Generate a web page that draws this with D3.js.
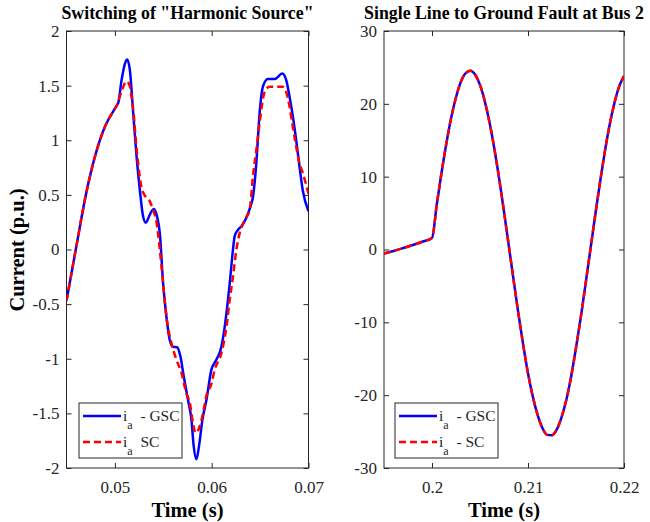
<!DOCTYPE html>
<html>
<head>
<meta charset="utf-8">
<script src="https://cdn.jsdelivr.net/npm/d3@7"></script>
<style>
  body { margin: 0; background: #fff; }
  svg text { font-family: "Liberation Serif", "DejaVu Serif", serif; }
</style>
</head>
<body>
<svg id="chart" width="650" height="522"></svg>
<script>
// left panel: switching of harmonic source
const harmTime = [0.045, 0.046, 0.047, 0.048, 0.049, 0.050, 0.0502, 0.05034, 0.05069, 0.05103, 0.05127,
  0.05155, 0.05189, 0.05224, 0.05258, 0.05292, 0.0532, 0.05361, 0.05402, 0.05436, 0.05464, 0.05498,
  0.05533, 0.05567, 0.05601, 0.05642, 0.05677, 0.05711, 0.05756, 0.05791, 0.05814, 0.05842, 0.05869,
  0.05904, 0.05945, 0.05997, 0.06048, 0.061, 0.06134, 0.06186, 0.0622, 0.06237, 0.06271, 0.06306,
  0.06358, 0.06399, 0.06426, 0.06461, 0.06495, 0.06529, 0.0658, 0.0665, 0.06729, 0.0677, 0.06804,
  0.06838, 0.06873, 0.06907, 0.06941, 0.07]
const harmGSC = [-0.47, 0.02, 0.50, 0.87, 1.13, 1.29, 1.32, 1.34, 1.55, 1.70, 1.74,
  1.64, 1.25, 0.85, 0.54, 0.30, 0.245, 0.32, 0.37, 0.30, 0.15, -0.31,
  -0.62, -0.83, -0.89, -0.895, -0.98, -1.16, -1.38, -1.56, -1.80, -1.92, -1.80,
  -1.56, -1.38, -1.10, -1.01, -0.89, -0.71, -0.31, 0.0, 0.12, 0.18, 0.21,
  0.29, 0.39, 0.48, 0.79, 1.25, 1.49, 1.56, 1.56, 1.61, 1.55, 1.40,
  1.22, 1.0, 0.76, 0.54, 0.35]

const harmTimeSC = [0.045, 0.046, 0.047, 0.048, 0.049, 0.050, 0.0502, 0.05069, 0.05121, 0.05155, 0.05172,
  0.05196, 0.05216, 0.0524, 0.05275, 0.0532, 0.05361, 0.05395, 0.0543, 0.05464, 0.05498, 0.05533,
  0.05585, 0.05636, 0.05688, 0.05739, 0.05773, 0.05807, 0.05835, 0.05876, 0.0591, 0.05945, 0.05997,
  0.06031, 0.061, 0.06152, 0.06186, 0.0622, 0.06255, 0.06289, 0.0634, 0.06392, 0.06426, 0.06461,
  0.06495, 0.06546, 0.06598, 0.06735, 0.0677, 0.06804, 0.06838, 0.06873, 0.06907, 0.06941, 0.07]
const harmSC = [-0.47, 0.02, 0.50, 0.87, 1.13, 1.29, 1.32, 1.45, 1.54, 1.49, 1.40,
  1.22, 1.0, 0.79, 0.57, 0.48, 0.44, 0.36, 0.25, 0.0, -0.31, -0.62,
  -0.86, -1.01, -1.13, -1.32, -1.40, -1.59, -1.68, -1.62, -1.50, -1.34, -1.23,
  -1.10, -0.95, -0.71, -0.46, -0.25, 0.0, 0.15, 0.27, 0.36, 0.67, 0.91,
  1.16, 1.44, 1.49, 1.49, 1.44, 1.31, 1.12, 0.94, 0.79, 0.70, 0.51]

// right panel: single line to ground fault
const faultTime = [0.195, 0.196, 0.197, 0.198, 0.199, 0.2, 0.2005, 0.201, 0.2015, 0.202, 0.2025, 0.203,
  0.2035, 0.204, 0.2045, 0.205, 0.2055, 0.206, 0.2065, 0.207, 0.2075, 0.208, 0.2085, 0.209, 0.2095,
  0.21, 0.2105, 0.211, 0.2115, 0.212, 0.2125, 0.213, 0.2135, 0.214, 0.2145, 0.215, 0.2155, 0.216,
  0.2165, 0.217, 0.2175, 0.218, 0.2185, 0.219, 0.2195, 0.22]
const faultGSC = [-0.55, -0.2, 0.2, 0.62, 1.07, 1.58, 6.2, 10.6, 14.6, 18.1, 20.9, 23.0,
  24.2, 24.55, 24.0, 22.6, 20.35, 17.4, 13.8, 9.7, 5.2, 0.5, -4.2, -8.8, -13.1,
  -17.0, -20.2, -22.7, -24.5, -25.45, -25.5, -24.7, -23.0, -20.6, -17.4, -13.5, -9.3, -4.7,
  0.0, 4.7, 9.2, 13.4, 17.1, 20.1, 22.4, 23.8]
const faultSC = [-0.55, -0.2, 0.2, 0.62, 1.07, 1.58, 6.2, 10.6, 14.6, 18.1, 20.9, 23.0,
  24.2, 24.55, 24.0, 22.6, 20.35, 17.4, 13.8, 9.7, 5.2, 0.5, -4.2, -8.8, -13.1,
  -17.0, -20.2, -22.7, -24.5, -25.45, -25.5, -24.7, -23.0, -20.6, -17.4, -13.5, -9.3, -4.7,
  0.0, 4.7, 9.2, 13.4, 17.1, 20.1, 22.4, 23.8]

const leftXTicks = [0.05, 0.06, 0.07]
const leftYTicks = [-2, -1.5, -1, -0.5, 0, 0.5, 1, 1.5, 2]
const rightXTicks = [0.2, 0.21, 0.22]
const rightYTicks = [-30, -20, -10, 0, 10, 20, 30]

const svg = d3.select("#chart")
const axisColor = "#262626"
const plotTop = 31, plotBottom = 468

function panel(opts) {
    const x = d3.scaleLinear().domain(opts.xDomain).range(opts.xRange)
    const y = d3.scaleLinear().domain(opts.yDomain).range([plotBottom, plotTop])
    const g = svg.append("g")

    const styleAxis = (sel) => {
        sel.select(".domain").remove()
        sel.selectAll("line").attr("stroke", axisColor)
        sel.selectAll("text").attr("fill", axisColor).style("font-size", "17px")
            .style("font-family", "'Liberation Serif', serif")
    }

    g.append("g").attr("transform", `translate(0,${plotBottom})`)
        .call(d3.axisBottom(x).tickValues(opts.xTicks).tickSize(-5).tickPadding(13)
            .tickFormat(d3.format("")))
        .call(styleAxis)
    g.append("g").attr("transform", `translate(0,${plotTop})`)
        .call(d3.axisTop(x).tickValues(opts.xTicks).tickSize(-5).tickFormat(""))
        .call(styleAxis)
    g.append("g").attr("transform", `translate(${opts.xRange[0]},0)`)
        .call(d3.axisLeft(y).tickValues(opts.yTicks).tickSize(-5).tickPadding(7)
            .tickFormat((d) => String(d)))
        .call(styleAxis)
    g.append("g").attr("transform", `translate(${opts.xRange[1]},0)`)
        .call(d3.axisRight(y).tickValues(opts.yTicks).tickSize(-5).tickFormat(""))
        .call(styleAxis)

    g.append("rect")
        .attr("x", opts.xRange[0]).attr("y", plotTop)
        .attr("width", opts.xRange[1] - opts.xRange[0]).attr("height", plotBottom - plotTop)
        .attr("fill", "none").attr("stroke", axisColor).attr("stroke-width", 1)

    const clipId = opts.id + "-clip"
    svg.append("clipPath").attr("id", clipId).append("rect")
        .attr("x", opts.xRange[0]).attr("y", plotTop)
        .attr("width", opts.xRange[1] - opts.xRange[0]).attr("height", plotBottom - plotTop)

    const line = d3.line().x((d) => x(d[0])).y((d) => y(d[1])).curve(d3.curveMonotoneX)
    const plot = g.append("g").attr("clip-path", `url(#${clipId})`)
    plot.append("path")
        .datum(d3.zip(opts.tGSC, opts.gsc))
        .attr("d", line).attr("fill", "none")
        .attr("stroke", "#0000ff").attr("stroke-width", 2.5)
    plot.append("path")
        .datum(d3.zip(opts.tSC, opts.sc))
        .attr("d", line).attr("fill", "none")
        .attr("stroke", "#ff0000").attr("stroke-width", 2.5)
        .attr("stroke-dasharray", "7,4")

    // title
    g.append("text")
        .attr("x", (opts.xRange[0] + opts.xRange[1]) / 2).attr("y", 19)
        .attr("text-anchor", "middle").attr("font-weight", "bold")
        .style("font-size", "17.8px").attr("fill", "#000")
        .text(opts.title)

    // x label
    g.append("text")
        .attr("x", (opts.xRange[0] + opts.xRange[1]) / 2).attr("y", 517)
        .attr("text-anchor", "middle").attr("font-weight", "bold")
        .style("font-size", "20.5px").attr("fill", "#000")
        .text("Time (s)")

    // legend
    const lg = g.append("g").attr("transform", `translate(${opts.xRange[0] + opts.legendDx},403)`)
    lg.append("rect").attr("width", 103).attr("height", 55)
        .attr("fill", "#fff").attr("stroke", axisColor).attr("stroke-width", 1)
    const entries = [
        { color: "#0000ff", dash: null, label: opts.labels[0] },
        { color: "#ff0000", dash: "7,4", label: opts.labels[1] },
    ]
    entries.forEach((e, i) => {
        const yy = 13 + i * 26
        lg.append("line").attr("x1", 4).attr("x2", 42).attr("y1", yy).attr("y2", yy)
            .attr("stroke", e.color).attr("stroke-width", 2.5)
            .attr("stroke-dasharray", e.dash)
        const t = lg.append("text").attr("x", 44).attr("y", yy + 5)
            .style("font-size", "15.5px").attr("fill", axisColor)
        t.append("tspan").text("i")
        t.append("tspan").attr("dy", 8).style("font-size", "12px").text("a")
        t.append("tspan").attr("dy", -8).text(e.label)
    })
}

panel({
    id: "left",
    xDomain: [0.045, 0.07], xRange: [66.5, 308.5],
    yDomain: [-2, 2],
    xTicks: leftXTicks, yTicks: leftYTicks,
    tGSC: harmTime, gsc: harmGSC, tSC: harmTimeSC, sc: harmSC,
    title: "Switching of \"Harmonic Source\"",
    labels: ["\u00a0 - GSC", "\u00a0 SC"],
    legendDx: 12.5,
})

panel({
    id: "right",
    xDomain: [0.195, 0.22], xRange: [384, 624],
    yDomain: [-30, 30],
    xTicks: rightXTicks, yTicks: rightYTicks,
    tGSC: faultTime, gsc: faultGSC, tSC: faultTime, sc: faultSC,
    title: "Single Line to Ground Fault at Bus 2",
    labels: ["\u00a0 - GSC", "\u00a0 - SC"],
    legendDx: 11,
})

// shared y label
svg.append("text")
    .attr("transform", "translate(24,250) rotate(-90)")
    .attr("text-anchor", "middle").attr("font-weight", "bold")
    .style("font-size", "20.5px").attr("fill", "#000")
    .text("Current (p.u.)")
</script>
</body>
</html>
